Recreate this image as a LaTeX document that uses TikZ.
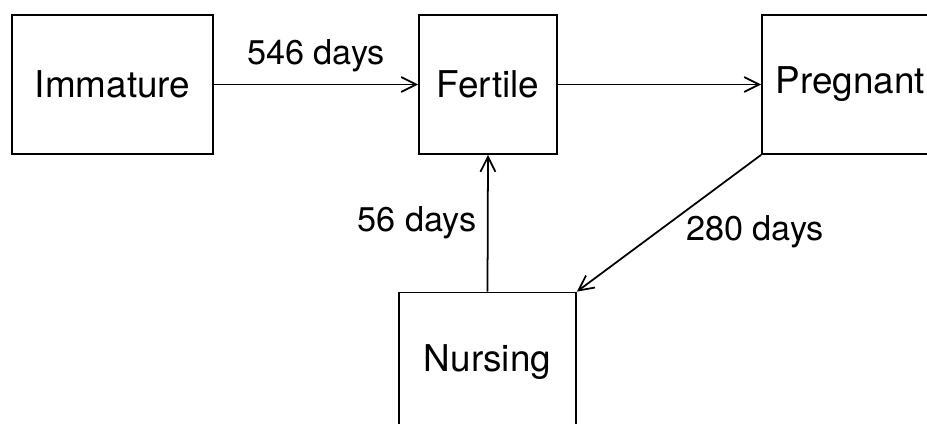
\documentclass[tikz,border=0pt]{standalone}
\usepackage{fontspec}
\setmainfont{TeX Gyre Heros}
\usetikzlibrary{arrows.meta}

\tikzset{
  state/.style={draw,line width=1pt,inner sep=0pt,minimum height=2.78cm,
    font=\fontsize{21}{25}\selectfont},
  days/.style={font=\fontsize{19.5}{23}\selectfont},
  trans/.style={line width=1pt,-{Straight Barb[length=0.3cm,width=0.3cm,line width=1pt]}}
}

\begin{document}
\begin{tikzpicture}[x=0.02cm,y=-0.02cm]
\useasboundingbox (0,0) rectangle (927,423);
\clip (0,0) rectangle (927,423);

% the four states
\node[state,minimum width=4.02cm] (imm) at (112.5,84.5) {Immature};
\node[state,minimum width=2.76cm] (fert) at (488,84.5) {Fertile};
\node[state,minimum width=3.54cm] (preg) at (850.5,84.5) {Pregnant};
\node[state,minimum width=3.54cm] (nurs) at (487.5,362) {Nursing};

% transitions
\draw[trans] (imm.east)--(fert.west);
\draw[trans] (fert.east)--(preg.west);
\draw[trans] (preg.south west)--(nurs.north east);
\draw[trans] (nurs.north)--(fert.south);

\node[days] (d546) at (316,56) {546 days};
\node[days] (d56) at (417,223) {56 days};
\node[days] (d280) at (755,232) {280 days};
\end{tikzpicture}
\end{document}
